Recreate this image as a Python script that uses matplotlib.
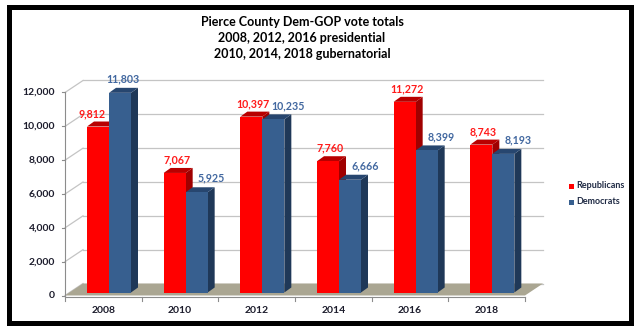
import matplotlib
matplotlib.use('Agg')
import matplotlib.pyplot as plt
from matplotlib.patches import Polygon, Rectangle

plt.rcParams['font.family'] = ['Lato', 'DejaVu Sans']

# data
years = ['2008', '2010', '2012', '2014', '2016', '2018']
republicans = [9812, 7067, 10397, 7760, 11272, 8743]
democrats = [11803, 5925, 10235, 6666, 8399, 8193]
yticks = [0, 2000, 4000, 6000, 8000, 10000, 12000]
title_lines = ['Pierce County Dem-GOP vote totals',
               '2008, 2012, 2016 presidential',
               '2010, 2014, 2018 gubernatorial']

W, H = 640, 331
fig = plt.figure(figsize=(W / 100, H / 100), dpi=100)
fig.patch.set_facecolor('white')

# plot area (front plane) in pixels
x0, x1 = 65, 525
y0, y1 = 295.5, 92.5
ax = fig.add_axes([x0 / W, (H - y0) / H, (x1 - x0) / W, (y0 - y1) / H])
ax.set_xlim(0, len(years))
ax.set_ylim(0, 12000)
ax.axis('off')

ux = len(years) / (x1 - x0)   # data units per pixel
uy = 12000 / (y0 - y1)

# 3d offsets in pixels
wall_dx, wall_dy = 18, 12
bar_dx, bar_dy = 7, 5
base = 3 * uy
bar_w = 22 * ux
bar_off = 22 * ux

grid_col = '#c4c4c4'
axis_col = '#8c8c8c'
txt_col = '#1c1c2c'

# back wall grid + side wall diagonals
for v in yticks:
    ax.plot([wall_dx * ux, len(years) + wall_dx * ux], [v + wall_dy * uy] * 2,
            color=grid_col, lw=0.9, zorder=0, clip_on=False)
    ax.plot([0, wall_dx * ux], [v, v + wall_dy * uy],
            color=grid_col, lw=0.9, zorder=0, clip_on=False)
    ax.plot([-3 * ux, 0], [v, v], color=axis_col, lw=0.8, clip_on=False)
    ax.text(-10 * ux, v, f'{v:,}', ha='right', va='center', fontsize=7.5,
            fontweight='bold', color=txt_col)

# floor
n = len(years)
ax.add_patch(Polygon([(0, 0), (n, 0), (n + wall_dx * ux, wall_dy * uy),
                      (wall_dx * ux, wall_dy * uy)],
                     closed=True, facecolor='#aaa692', edgecolor='none',
                     zorder=1, clip_on=False))

# axes lines
ax.plot([0, 0], [0, 12000], color=axis_col, lw=0.8, clip_on=False, zorder=1)
ax.plot([0, n], [-1 * uy, -1 * uy], color=axis_col, lw=0.8, clip_on=False, zorder=1)
for i in range(n + 1):
    ax.plot([i, i], [-1 * uy, -5 * uy], color=axis_col, lw=0.8, clip_on=False)
for i, yr in enumerate(years):
    ax.text(i + 0.5, -15 * uy, yr, ha='center', va='center', fontsize=7.5,
            fontweight='bold', color=txt_col)


def draw_bar(xl, val, front, top, side, z):
    xr = xl + bar_w
    t = base + val
    ax.bar(xl, val, bottom=base, width=bar_w, align='edge', color=front,
           edgecolor='none', zorder=z + 1, clip_on=False)
    ax.add_patch(Polygon([(xr, base), (xr + bar_dx * ux, base + bar_dy * uy),
                          (xr + bar_dx * ux, t + bar_dy * uy), (xr, t)],
                         closed=True, facecolor=side, edgecolor='none',
                         zorder=z, clip_on=False))
    ax.add_patch(Polygon([(xl, t), (xr, t), (xr + bar_dx * ux, t + bar_dy * uy),
                          (xl + bar_dx * ux, t + bar_dy * uy)],
                         closed=True, facecolor=top, edgecolor='none',
                         zorder=z, clip_on=False))


red, red_top, red_side = '#ff0000', '#b80000', '#a00000'
blue, blue_top, blue_side = '#375f8f', '#27466f', '#1f3858'
red_lbl, blue_lbl = '#ff1a1a', '#4268a0'

for i, (r, d) in enumerate(zip(republicans, democrats)):
    xr_ = i + bar_off
    xb_ = xr_ + bar_w
    draw_bar(xr_, r, red, red_top, red_side, 2)
    draw_bar(xb_, d, blue, blue_top, blue_side, 4)
    # value labels
    rdx = -6 if d > r else 2
    bdx = 3 if d > r else 15
    ax.text(xr_ + bar_w / 2 + rdx * ux, base + r + 13 * uy, f'{r:,}',
            ha='center', va='center', fontsize=7.7, fontweight='bold',
            color=red_lbl, zorder=10)
    ax.text(xb_ + bar_w / 2 + bdx * ux, base + d + 14 * uy, f'{d:,}',
            ha='center', va='center', fontsize=7.7, fontweight='bold',
            color=blue_lbl, zorder=10)

# title
for k, line in enumerate(title_lines):
    fig.text(302 / W, 1 - (22 + 16 * k) / H, line, ha='center', va='center',
             fontsize=9, fontweight='bold', color='black')

# legend
for k, (lab, col) in enumerate([('Republicans', red), ('Democrats', blue)]):
    yy = 186 + 16 * k
    fig.patches.append(Rectangle((569 / W, 1 - (yy + 2.5) / H), 5 / W, 5 / H,
                                 transform=fig.transFigure, facecolor=col,
                                 edgecolor='none'))
    fig.text(576 / W, 1 - yy / H, lab, ha='left', va='center', fontsize=6.5,
             fontweight='bold', color='#1f2a44')

# black frame
fig.patches.append(Rectangle((9 / W, 1 - 322.5 / H), 621.5 / W, 316 / H,
                             transform=fig.transFigure, facecolor='none',
                             edgecolor='black', lw=3.6))

fig.savefig('out.png', dpi=100)
